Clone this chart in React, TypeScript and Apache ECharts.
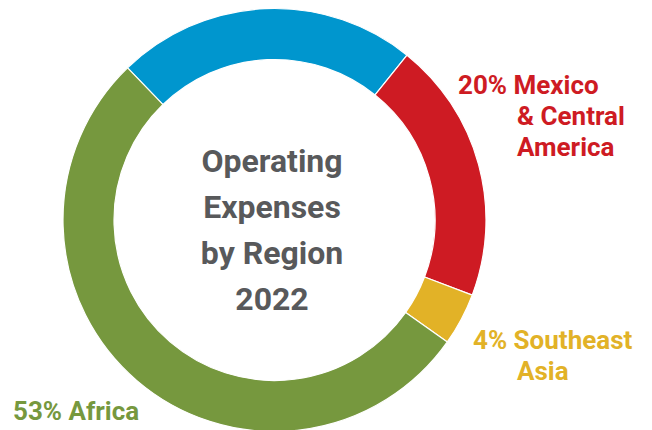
import React, { useEffect, useRef } from "react";
import * as echarts from "echarts";

// ---- data ----
const regions = ["South America", "Mexico & Central America", "Southeast Asia", "Africa"];
const shares = [23, 20, 4, 53];
const sliceColors = ["#0096CE", "#CE1B23", "#E2B227", "#76983E"];
// label lines shown next to the ring (empty = no label)
const labelNameLines: string[][] = [[], ["Mexico", "& Central", "America"], ["Southeast", "Asia"], ["Africa"]];
const centreLines = ["Operating", "Expenses", "by Region", "2022"];

// ---- layout / style (not data) ----
const labelPos = [
  null,
  { px: 458, nx: 517, y: 69 },
  { px: 473, nx: 517, y: 324 },
  { px: 13, nx: 69, y: 395 },
];
const FONT = "Roboto, 'Liberation Sans', Arial, sans-serif";
const LH = 31;

export default function App() {
  const ref = useRef<HTMLDivElement>(null);
  useEffect(() => {
    document.body.style.margin = "0";
    const chart = echarts.init(ref.current!, null, { renderer: "svg" });
    const graphics: any[] = [];
    labelPos.forEach((p, i) => {
      const lines = labelNameLines[i];
      if (!p || lines.length === 0) return;
      graphics.push({
        type: "text",
        x: p.px,
        y: p.y,
        style: {
          text: `${shares[i]}% ${lines[0]}`,
          fill: sliceColors[i],
          font: `bold 26px ${FONT}`,
          lineHeight: LH,
          verticalAlign: "top",
          align: "left",
        },
      });
      if (lines.length > 1) {
        graphics.push({
          type: "text",
          x: p.nx,
          y: p.y + LH,
          style: {
            text: lines.slice(1).join("\n"),
            fill: sliceColors[i],
            font: `bold 26px ${FONT}`,
            lineHeight: LH,
            verticalAlign: "top",
            align: "left",
          },
        });
      }
    });
    graphics.push({
      type: "text",
      x: 272,
      y: 230,
      style: {
        text: centreLines.join("\n"),
        fill: "#58595B",
        font: `bold 32px ${FONT}`,
        lineHeight: 46,
        align: "center",
        verticalAlign: "middle",
      },
    });
    chart.setOption({
      animation: false,
      backgroundColor: "#ffffff",
      graphic: graphics,
      series: [
        {
          type: "pie",
          center: [274.5, 220],
          radius: [160.5, 211.5],
          startAngle: 134,
          clockwise: true,
          silent: true,
          label: { show: false },
          labelLine: { show: false },
          itemStyle: { borderColor: "#ffffff", borderWidth: 1.2 },
          data: regions.map((name, i) => ({
            name,
            value: shares[i],
            itemStyle: { color: sliceColors[i] },
          })),
        },
      ],
    });
    return () => chart.dispose();
  }, []);
  return (
    <div
      ref={ref}
      style={{ position: "fixed", left: 0, top: 0, width: 652, height: 430 }}
    />
  );
}
